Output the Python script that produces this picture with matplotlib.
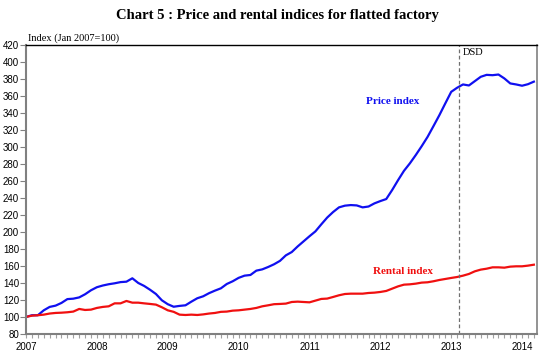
import matplotlib
matplotlib.use("Agg")
import matplotlib.pyplot as plt
from matplotlib.ticker import MultipleLocator

# monthly data, Jan 2007 - Mar 2014
years = ["2007", "2008", "2009", "2010", "2011", "2012", "2013", "2014"]
price = [100, 102, 102, 107.8, 111.8, 113.3, 116.5, 121, 121.5, 123, 126.7, 131.4,
         135, 137, 138.5, 139.6, 141, 141.5, 145.5, 140, 136.5, 132, 127, 119.6,
         115, 112, 113, 113.7, 118, 122, 124.3, 128, 131, 133.7, 138.8, 142,
         146, 148.6, 149.4, 154.5, 156, 158.8, 162, 166, 172.5, 176.4, 183, 189,
         195, 200.7, 209, 217, 223.5, 229, 231, 231.7, 231.3, 229, 230, 233.7,
         236.4, 238.8, 249.4, 261, 272, 280.8, 290.6, 301, 312, 324.7, 337.6, 351.4,
         365, 369.8, 373.7, 372.5, 377.6, 382.7, 385, 384.6, 385.4, 380.8, 374.9, 373.7,
         372.2, 374, 377]
rental = [100, 101.5, 102, 102.7, 104, 104.7, 105, 105.5, 106.3, 109.4, 108.2, 108.6,
          110.6, 111.8, 112.5, 116, 116, 118.8, 116.8, 116.8, 116, 115.3, 114.5, 111.4,
          107.8, 106, 102.7, 102.3, 102.7, 102.3, 103, 104, 104.7, 106, 106.3, 107.4,
          107.8, 108.6, 109.4, 110.6, 112.5, 113.7, 115, 115.3, 115.7, 117.6, 118, 117.6,
          117.2, 119.2, 121.2, 121.6, 123.5, 125.5, 127, 127.4, 127.4, 127.4, 128.2, 128.6,
          129.4, 130.6, 133.3, 136, 138, 138.4, 139.2, 140.4, 140.8, 142, 143.5, 144.7,
          145.9, 147, 148.6, 150.6, 153.7, 155.7, 156.8, 158.4, 158.4, 158, 159.2, 159.6,
          159.6, 160.4, 161.5]
dsd_month = 73.3  # DSD introduced late Feb 2013

months = list(range(len(price)))

fig = plt.figure(figsize=(5.54, 3.61), dpi=100)
ax = fig.add_axes([0.047, 0.075, 0.922, 0.80])

ax.plot(months, price, color="#1010F0", lw=1.6)
ax.plot(months, rental, color="#F01010", lw=1.6)
ax.axvline(dsd_month, color="#707070", lw=0.9, ls=(0, (3, 2)))

ax.set_xlim(0, 86.5)
ax.set_ylim(80, 420)
ax.yaxis.set_major_locator(MultipleLocator(20))
ax.set_xticks(range(0, 12 * len(years), 12))
ax.set_xticklabels(years)
ax.xaxis.set_minor_locator(MultipleLocator(1))

ax.tick_params(axis="y", direction="out", length=4, width=0.8, color="#808080",
               labelsize=7, pad=1)
ax.tick_params(axis="x", which="both", direction="out", length=3, width=0.8,
               color="#a0a0a0", labelsize=7, pad=3)

for side in ["left", "bottom", "right"]:
    ax.spines[side].set_color("#808080")
ax.spines["left"].set_linewidth(1.5)
ax.spines["bottom"].set_linewidth(1.5)
ax.spines["right"].set_linewidth(1.2)
ax.spines["top"].set_color("black")
ax.spines["top"].set_linewidth(1.0)

serif = "Liberation Serif"
for lab in ax.get_xticklabels() + ax.get_yticklabels():
    lab.set_fontfamily("Liberation Sans")

ax.text(0.003, 1.008, "Index (Jan 2007=100)", transform=ax.transAxes,
        fontsize=7.5, family=serif, ha="left", va="bottom")
ax.text(dsd_month + 0.6, 411, "DSD", fontsize=7.5, family=serif, va="center")
ax.text(57.5, 354, "Price index", color="#1010F0", fontsize=8, family=serif,
        fontweight="bold", va="center")
ax.text(58.8, 154, "Rental index", color="#F01010", fontsize=8, family=serif,
        fontweight="bold", va="center")

fig.suptitle("Chart 5 : Price and rental indices for flatted factory",
             x=0.5, y=0.975, fontsize=10.5, family=serif, fontweight="bold")

fig.savefig("out.png", dpi=100, facecolor="white")
